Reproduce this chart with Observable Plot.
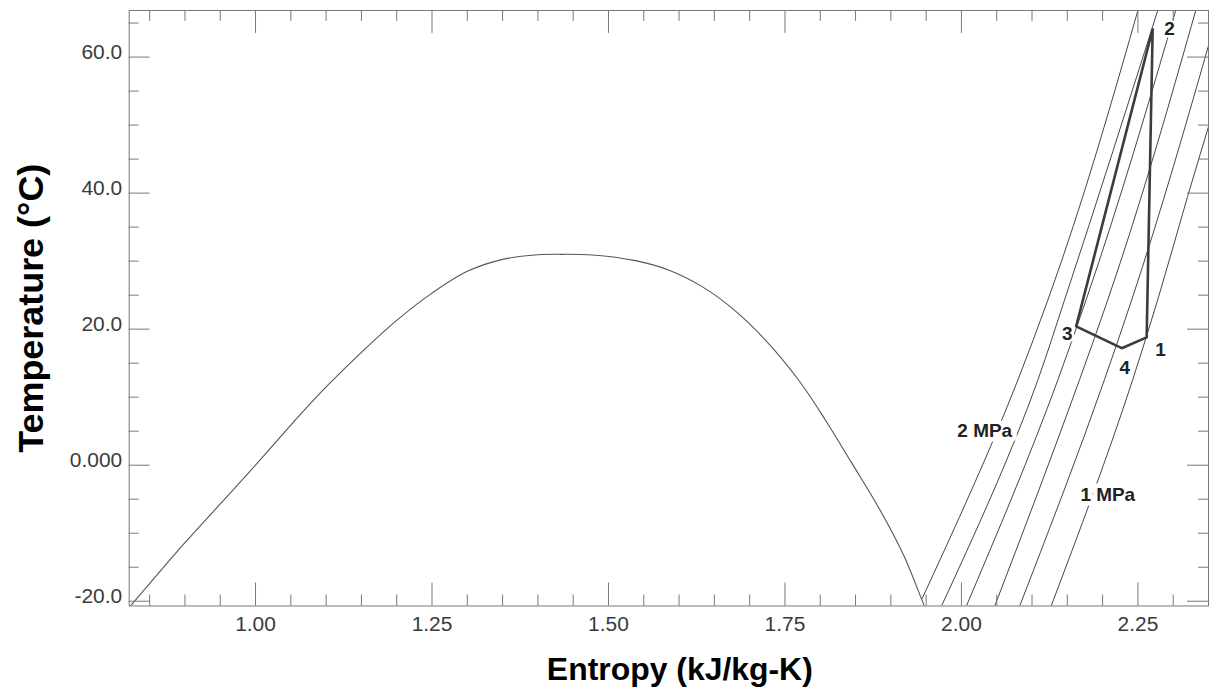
<!DOCTYPE html>
<html><head><meta charset="utf-8">
<script src="https://cdn.jsdelivr.net/npm/d3@7"></script>
<script src="https://cdn.jsdelivr.net/npm/@observablehq/plot@0.6"></script>
<style>
html,body{margin:0;padding:0;background:#fff;overflow:hidden;}
#chart svg{display:block;font-family:"Liberation Sans",Arial,sans-serif;}
</style>
</head><body><div id="chart"></div>
<script>
// ---- Data (entropy in kJ/kg-K, temperature in °C) ----
// Saturation dome: liquid branch, critical point, vapour branch
const domeS = [0.820, 0.85, 0.90, 0.95, 1.00, 1.05, 1.10, 1.15, 1.20, 1.25, 1.30, 1.35, 1.40, 1.434,
               1.477, 1.538, 1.585, 1.6326, 1.675, 1.722, 1.769, 1.807, 1.8445, 1.882, 1.918, 1.9475, 1.949];
const domeT = [-21.03, -17.4, -11.4, -5.7, 0.0, 5.9, 11.5, 16.6, 21.3, 25.3, 28.5, 30.26, 30.93, 31.0,
               30.9, 30.07, 28.7, 26.25, 23.08, 18.43, 12.56, 6.69, 0.34, -6.1, -13.2, -20.7, -21.0];

// Isobars (MPa)
const isobarP = [2.0, 1.8, 1.6, 1.4, 1.2, 1.0];
const isobarS = [
  [1.9444, 2.0801, 2.1225, 2.2531],
  [1.9705, 2.1084, 2.1461, 2.2816],
  [2.0058, 2.1367, 2.1766, 2.3068],
  [2.0461, 2.1673, 2.2073, 2.3351],
  [2.0814, 2.2026, 2.2412, 2.3550],
  [2.1260, 2.2426, 2.2780, 2.3204, 2.3550]
];
const isobarT = [
  [-19.6, 12.56, 24.3, 68.0],
  [-21.0, 12.56, 24.3, 68.0],
  [-21.0, 12.56, 24.3, 68.0],
  [-21.0, 12.56, 24.3, 68.0],
  [-21.0, 12.56, 24.3, 63.5],
  [-21.0, 12.56, 24.3, 39.5, 51.5]
];
const isobarLabels = ["2 MPa", "1 MPa"];
const isobarLabelS = [2.033, 2.2073];
const isobarLabelT = [4.97, -4.31];

// Cycle states 1-2-3-4
const cycleLabels = ["1", "2", "3", "4"];
const cycleS = [2.2624, 2.2709, 2.1625, 2.2271];
const cycleT = [18.8, 64.1, 20.4, 17.2];

// Axes
const xMajor = [1.00, 1.25, 1.50, 1.75, 2.00, 2.25];
const xTickLabels = ["1.00", "1.25", "1.50", "1.75", "2.00", "2.25"];
const xMinor = [0.85, 0.90, 0.95, 1.05, 1.10, 1.15, 1.20, 1.30, 1.35, 1.40, 1.45, 1.55, 1.60, 1.65, 1.70,
                1.80, 1.85, 1.90, 1.95, 2.05, 2.10, 2.15, 2.20, 2.30];
const yMajor = [-20, 0, 20, 40, 60];
const yTickLabels = ["-20.0", "0.000", "20.0", "40.0", "60.0"];
const yMinor = [-15, -10, -5, 5, 10, 15, 25, 30, 35, 45, 50, 55, 65];
const xTitle = "Entropy (kJ/kg-K)";
const yTitle = "Temperature (°C)";

// ---- Build tables ----
const dome = domeS.map((s, i) => ({s, T: domeT[i]}));
const isobars = isobarP.flatMap((p, k) => isobarS[k].map((s, i) => ({p, s, T: isobarT[k][i]})));
const cycle = [0, 1, 2, 3, 0].map(i => ({s: cycleS[i], T: cycleT[i]}));
const isoLab = isobarLabels.map((t, i) => ({t, s: isobarLabelS[i], T: isobarLabelT[i]}));
const xLab = new Map(xMajor.map((v, i) => [v, xTickLabels[i]]));
const yLab = new Map(yMajor.map((v, i) => [v, yTickLabels[i]]));

const W = 1212, H = 694, mL = 129, mR = 1, mT = 10, mB = 87;
const pw = W - mL - mR, ph = H - mT - mB;
const gray = "#777";
const ink = "#3a3a3a";
const font = "Liberation Sans, Arial, sans-serif";

// label offsets (px) for cycle state numbers
const cycOff = [[14, 13], [17, 0], [-9, 8], [3, 20]];

const chart = Plot.plot({
  width: W, height: H,
  marginLeft: mL, marginRight: mR, marginTop: mT, marginBottom: mB,
  style: {fontFamily: font, fontSize: "21px", background: "#fff"},
  x: {domain: [0.821, 2.35], axis: null},
  y: {domain: [-20.7, 66.85], axis: null},
  marks: [
    Plot.line(dome, {x: "s", y: "T", stroke: "#555", strokeWidth: 1.1, curve: "catmull-rom", clip: true}),
    Plot.line(isobars, {x: "s", y: "T", z: "p", stroke: "#444", strokeWidth: 1, curve: "monotone-y", clip: true}),
    Plot.text(isoLab, {x: "s", y: "T", text: "t", fontSize: 19, fontWeight: "bold", fill: "#222",
                       stroke: "white", strokeWidth: 9, paintOrder: "stroke"}),
    Plot.line(cycle, {x: "s", y: "T", stroke: "#3c3c3c", strokeWidth: 2.6, strokeLinejoin: "round"}),
    ...cycleLabels.map((t, i) => Plot.text([t], {
      x: () => cycleS[i], y: () => cycleT[i], text: d => d,
      dx: cycOff[i][0], dy: cycOff[i][1], fontSize: 19, fontWeight: "bold", fill: "#222",
      stroke: "white", strokeWidth: 5, paintOrder: "stroke"})),
    Plot.frame({stroke: gray}),
    // inward ticks on all four sides
    Plot.tickX(xMajor, {x: d => d, stroke: gray, insetTop: ph - 23}),
    Plot.tickX(xMinor, {x: d => d, stroke: gray, insetTop: ph - 11}),
    Plot.tickX(xMajor, {x: d => d, stroke: gray, insetBottom: ph - 23}),
    Plot.tickX(xMinor, {x: d => d, stroke: gray, insetBottom: ph - 11}),
    Plot.tickY(yMajor, {y: d => d, stroke: gray, insetRight: pw - 21}),
    Plot.tickY(yMinor, {y: d => d, stroke: gray, insetRight: pw - 10}),
    Plot.tickY(yMajor, {y: d => d, stroke: gray, insetLeft: pw - 21}),
    Plot.tickY(yMinor, {y: d => d, stroke: gray, insetLeft: pw - 10}),
    Plot.axisX(xMajor, {anchor: "bottom", tickSize: 0, tickPadding: 10, tickFormat: d => xLab.get(d),
                        fontSize: 21, color: ink, label: null}),
    Plot.axisY(yMajor, {anchor: "left", tickSize: 0, tickPadding: 7, tickFormat: d => yLab.get(d),
                        fontSize: 21, color: ink, dy: -5, label: null}),
    Plot.text([xTitle], {text: d => d, frameAnchor: "bottom", textAnchor: "middle", dx: 11, dy: 74,
                         fontSize: 32, fontWeight: "bold", fill: "#000"}),
    Plot.text([yTitle], {text: d => d, frameAnchor: "left", textAnchor: "middle", rotate: -90, dx: -98, dy: 0,
                         fontSize: 36, fontWeight: "bold", fill: "#000"})
  ]
});
document.getElementById("chart").appendChild(chart);
</script>
</body></html>
